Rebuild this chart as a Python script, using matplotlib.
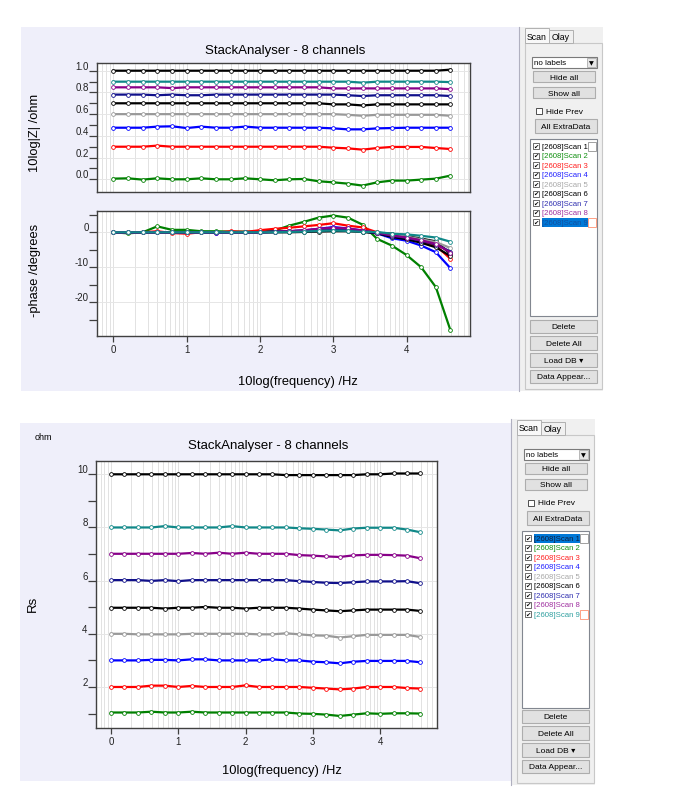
import numpy as np
import matplotlib
matplotlib.use('Agg')
import matplotlib.pyplot as plt
from matplotlib.patches import Rectangle

plt.rcParams['font.family'] = ['Liberation Sans', 'DejaVu Sans']

W, H = 700, 804

# x axis: 10log(frequency) of the 24 measured points
log_freq = [0.0, 0.2, 0.4, 0.6, 0.8, 1.0, 1.2, 1.4, 1.6, 1.8, 2.0, 2.2,
            2.4, 2.6, 2.8, 3.0, 3.2, 3.4, 3.6, 3.8, 4.0, 4.2, 4.4, 4.6]

scan_names = ['[2608]Scan 1', '[2608]Scan 2', '[2608]Scan 3', '[2608]Scan 4', '[2608]Scan 5',
              '[2608]Scan 6', '[2608]Scan 7', '[2608]Scan 8', '[2608]Scan 9']
line_colors = ['#000000', '#008000', '#ff0000', '#0000ff', '#999999',
               '#000000', '#10108a', '#880088', '#108888']
list_colors = ['#000000', '#109010', '#ff2020', '#2020ff', '#a8a8a8',
               '#000000', '#3030b0', '#a030a0', '#30a0a0']

# 10log|Z| /ohm
z_scan1 = [1.00, 1.00, 1.00, 1.00, 1.00, 1.00, 1.00, 1.00, 1.00, 1.00, 1.00, 1.00,
           1.00, 1.00, 1.00, 1.00, 1.00, 1.00, 1.00, 1.00, 1.00, 1.00, 1.00, 1.01]
z_scan2 = [0.006, 0.009, -0.003, 0.009, 0.0, 0.0, 0.009, 0.0, 0.0, 0.009, 0.0, -0.009,
           0.0, 0.003, -0.018, -0.028, -0.04, -0.058, -0.028, -0.012, -0.012, -0.003, 0.006, 0.034]
z_scan3 = [0.30, 0.30, 0.30, 0.31, 0.30, 0.30, 0.30, 0.30, 0.30, 0.30, 0.30, 0.30,
           0.30, 0.30, 0.30, 0.291, 0.285, 0.273, 0.288, 0.298, 0.298, 0.298, 0.288, 0.279]
z_scan4 = [0.475, 0.475, 0.475, 0.485, 0.488, 0.472, 0.485, 0.475, 0.475, 0.485, 0.475, 0.475,
           0.475, 0.475, 0.475, 0.469, 0.46, 0.46, 0.469, 0.472, 0.475, 0.475, 0.475, 0.475]
z_scan5 = [0.60, 0.60, 0.60, 0.60, 0.60, 0.60, 0.60, 0.60, 0.60, 0.60, 0.60, 0.60,
           0.60, 0.60, 0.60, 0.60, 0.594, 0.585, 0.594, 0.594, 0.594, 0.594, 0.594, 0.585]
z_scan6 = [0.70, 0.70, 0.70, 0.70, 0.70, 0.70, 0.70, 0.70, 0.70, 0.70, 0.70, 0.70,
           0.70, 0.70, 0.70, 0.69, 0.69, 0.68, 0.69, 0.69, 0.69, 0.69, 0.69, 0.69]
z_scan7 = [0.78, 0.78, 0.78, 0.774, 0.78, 0.774, 0.774, 0.78, 0.78, 0.78, 0.78, 0.78,
           0.78, 0.78, 0.78, 0.78, 0.774, 0.767, 0.774, 0.774, 0.774, 0.774, 0.774, 0.767]
z_scan8 = [0.847, 0.847, 0.847, 0.847, 0.84, 0.847, 0.847, 0.847, 0.847, 0.847, 0.847, 0.847,
           0.847, 0.847, 0.847, 0.837, 0.837, 0.837, 0.837, 0.837, 0.837, 0.837, 0.837, 0.83]
z_scan9 = [0.899, 0.899, 0.899, 0.899, 0.899, 0.899, 0.899, 0.899, 0.899, 0.899, 0.899, 0.899,
           0.899, 0.899, 0.899, 0.899, 0.899, 0.89, 0.899, 0.899, 0.899, 0.899, 0.899, 0.895]

# -phase /degrees
ph_scan1 = [0, 0, 0, 0, 0, 0, 0, 0, 0, 0, 0, 0,
            0, 0.1, 0.2, 0.3, 0.3, 0.1, -0.2, -0.4, -1.1, -1.8, -2.6, -6.2]
ph_scan2 = [0, -0.3, 0, 1.7, 0.7, 0.7, 0.3, 0.3, 0.2, 0.2, 0.2, 0.5,
            1.9, 3.0, 4.2, 4.8, 4.2, 2.2, -1.9, -3.8, -6.5, -10.0, -15.7, -28.1]
ph_scan3 = [0, 0, 0, 0.3, -0.2, -0.4, 0, -0.1, 0.3, 0.1, 0.6, 1.0,
            1.3, 1.7, 2.1, 2.6, 1.9, 1.4, 0, -0.8, -1.4, -2.6, -3.8, -7.6]
ph_scan4 = [0, 0, 0, 0, 0, 0, 0, -0.2, 0, 0, 0, 0.2,
            0.3, 0.5, 1.0, 1.5, 1.1, 0.5, -0.3, -1.7, -2.4, -3.8, -5.7, -10.3]
ph_scan5 = [0, 0, 0, 0, 0, 0, 0, 0, 0, 0, 0, 0.1,
            0.3, 0.5, 0.8, 1.0, 0.8, 0.4, -0.1, -0.8, -1.2, -2.0, -2.8, -4.5]
ph_scan6 = [0, 0, 0, 0, 0, 0, 0, 0, 0, 0, 0, 0.1,
            0.2, 0.4, 0.7, 0.9, 0.7, 0.2, -0.3, -1.3, -2.0, -3.0, -4.3, -6.8]
ph_scan7 = [0, 0, 0, 0, 0, 0, 0, 0, 0, 0, 0, 0.1,
            0.3, 0.5, 0.8, 1.0, 0.8, 0.3, -0.2, -1.0, -1.6, -2.4, -3.5, -5.5]
ph_scan8 = [0, 0, 0, 0, 0, 0, 0, 0, 0, 0, 0, 0.1,
            0.3, 0.6, 1.0, 1.3, 1.1, 0.5, -0.1, -0.9, -1.5, -2.3, -3.3, -5.8]
ph_scan9 = [0, 0, 0, 0, 0, 0, 0, 0, 0, 0, 0, 0,
            0.1, 0.2, 0.4, 0.5, 0.4, 0.1, 0.1, -0.4, -0.6, -1.0, -1.5, -2.7]

# Rs /ohm
rs_scan1 = [10.0, 10.0, 10.0, 10.0, 10.0, 10.0, 10.0, 10.0, 10.0, 10.0, 10.0, 10.0,
            10.0, 9.97, 9.97, 9.97, 9.97, 9.97, 9.97, 10.0, 10.0, 10.03, 10.03, 10.03]
rs_scan2 = [1.04, 1.04, 1.04, 1.07, 1.04, 1.04, 1.07, 1.04, 1.04, 1.04, 1.04, 1.04,
            1.04, 1.04, 1.0, 0.99, 0.96, 0.91, 0.96, 1.01, 0.99, 1.01, 1.01, 1.0]
rs_scan3 = [2.0, 2.0, 2.0, 2.05, 2.05, 2.0, 2.04, 2.0, 2.0, 2.0, 2.06, 2.0,
            2.0, 2.0, 2.0, 1.97, 1.94, 1.91, 1.94, 2.0, 2.0, 2.0, 1.96, 1.94]
rs_scan4 = [3.0, 3.0, 3.0, 3.02, 3.02, 3.0, 3.04, 3.04, 3.0, 3.0, 3.0, 3.0,
            3.04, 3.0, 3.0, 2.95, 2.93, 2.89, 2.95, 2.98, 2.98, 2.98, 2.98, 2.93]
rs_scan5 = [4.0, 4.0, 3.98, 3.98, 3.98, 3.98, 4.0, 4.0, 4.0, 4.0, 4.0, 3.98,
            3.98, 4.02, 3.98, 3.94, 3.93, 3.86, 3.91, 3.96, 3.96, 3.96, 3.96, 3.88]
rs_scan6 = [4.98, 4.98, 4.98, 4.98, 4.95, 4.98, 4.98, 5.01, 4.98, 4.98, 4.95, 4.98,
            4.98, 4.98, 4.95, 4.91, 4.88, 4.85, 4.88, 4.91, 4.91, 4.91, 4.91, 4.86]
rs_scan7 = [6.02, 6.02, 6.02, 5.99, 6.02, 5.98, 6.02, 6.02, 6.02, 6.02, 6.02, 6.02,
            6.02, 6.02, 5.98, 5.95, 5.92, 5.91, 5.94, 5.97, 5.97, 5.97, 5.98, 5.9]
rs_scan8 = [7.01, 7.01, 7.01, 7.01, 7.01, 7.01, 7.04, 7.01, 7.05, 7.01, 7.05, 7.01,
            7.01, 7.01, 6.96, 6.94, 6.91, 6.89, 6.95, 6.97, 6.97, 6.96, 6.94, 6.84]
rs_scan9 = [8.0, 8.0, 8.0, 8.0, 8.05, 8.0, 8.0, 8.0, 8.0, 8.05, 8.0, 8.0,
            8.0, 8.0, 7.97, 7.95, 7.92, 7.89, 7.96, 7.99, 7.99, 7.99, 7.92, 7.82]

z_data = [z_scan1, z_scan2, z_scan3, z_scan4, z_scan5, z_scan6, z_scan7, z_scan8, z_scan9]
ph_data = [ph_scan1, ph_scan2, ph_scan3, ph_scan4, ph_scan5, ph_scan6, ph_scan7, ph_scan8, ph_scan9]
rs_data = [rs_scan1, rs_scan2, rs_scan3, rs_scan4, rs_scan5, rs_scan6, rs_scan7, rs_scan8, rs_scan9]

fig = plt.figure(figsize=(W / 100, H / 100), dpi=100)
fig.patch.set_facecolor('white')

# background layer in pixel coordinates
bg = fig.add_axes([0, 0, 1, 1], zorder=0)
bg.set_xlim(0, W)
bg.set_ylim(H, 0)
bg.axis('off')

LAV = '#efeffa'
bg.add_patch(Rectangle((21, 28), 498, 364, fc=LAV, ec='none'))
bg.add_patch(Rectangle((20, 424), 492, 358, fc=LAV, ec='none'))


def px_axes(l, t, r, b):
    ax = fig.add_axes([l / W, 1 - b / H, (r - l) / W, (b - t) / H], zorder=2)
    ax.set_facecolor('white')
    for s in ax.spines.values():
        s.set_color('#404040')
        s.set_linewidth(1.0)
    return ax


def log_grid(ax, xmin, xmax):
    for n in range(-1, 5):
        for k in range(1, 10):
            v = n + np.log10(k)
            if xmin < v < xmax:
                ax.axvline(v, color='#e2e2e2', lw=0.7, zorder=0)


def style_ax(ax, xlim, ylim, major, minor, labels):
    ax.set_xlim(*xlim)
    ax.set_ylim(*ylim)
    log_grid(ax, *xlim)
    for v in major:
        ax.axhline(v, color='#e6e6e6', lw=0.7, zorder=0)
    ax.set_yticks(major, labels=labels)
    ax.set_yticks(minor, minor=True)
    ax.tick_params(axis='y', which='both', direction='out', length=6, width=0.9,
                   color='#404040', labelsize=7, labelcolor='#222222', pad=0)
    for t in ax.get_yticklabels():
        t.set_va('bottom')


def draw_lines(ax, data):
    for ys, c in zip(data, line_colors):
        ax.plot(log_freq, ys, color=c, lw=1.6, marker='o', ms=2.7, mfc='white',
                mec=c, mew=0.6, zorder=3)


# ---- top panel: |Z| and phase ----
ax_z = px_axes(97, 64, 470, 193)
style_ax(ax_z, (-0.222, 4.866), (-0.117, 1.071),
         [0.0, 0.2, 0.4, 0.6, 0.8, 1.0], [0.1, 0.3, 0.5, 0.7, 0.9],
         ['0.0', '0.2', '0.4', '0.6', '0.8', '1.0'])
ax_z.set_xticks([])
draw_lines(ax_z, z_data)

ax_p = px_axes(97, 212, 470, 337)
style_ax(ax_p, (-0.222, 4.866), (-29.7, 6.1),
         [0, -10, -20], [5, -5, -15, -25], ['0', '-10', '-20'])
ax_p.set_xticks([0, 1, 2, 3, 4], labels=['0', '1', '2', '3', '4'])
ax_p.tick_params(axis='x', direction='out', length=4, width=0.9, color='#404040',
                 labelsize=7, labelcolor='#222222', pad=2)
draw_lines(ax_p, ph_data)

bg.text(285, 51, 'StackAnalyser - 8 channels', ha='center', va='center', fontsize=9.5)
bg.text(35, 133, '10log|Z| /ohm', ha='center', va='center', rotation=90, fontsize=9.3)
bg.text(35, 270, '-phase /degrees', ha='center', va='center', rotation=90, fontsize=9.3)
bg.text(298, 382, '10log(frequency) /Hz', ha='center', va='center', fontsize=9.3)

# ---- bottom panel: Rs ----
ax_r = px_axes(96, 462, 437, 729)
style_ax(ax_r, (-0.223, 4.846), (0.457, 10.5),
         [2, 4, 6, 8, 10], [1, 3, 5, 7, 9], ['2', '4', '6', '8', '10'])
ax_r.set_xticks([0, 1, 2, 3, 4], labels=['0', '1', '2', '3', '4'])
ax_r.tick_params(axis='x', direction='out', length=4, width=0.9, color='#404040',
                 labelsize=7, labelcolor='#222222', pad=2)
draw_lines(ax_r, rs_data)

bg.text(268, 446, 'StackAnalyser - 8 channels', ha='center', va='center', fontsize=9.5)
bg.text(43, 438, 'ohm', ha='center', va='center', fontsize=6.5)
bg.text(33, 604, 'Rs', ha='center', va='center', rotation=90, fontsize=9.5)
bg.text(282, 771, '10log(frequency) /Hz', ha='center', va='center', fontsize=9.3)


# ---- side control panels ----
def button(x0, y0, x1, y1, label, fs=6):
    bg.add_patch(Rectangle((x0, y0), x1 - x0, y1 - y0, fc='#e1e1e1', ec='#adadad', lw=0.8))
    bg.text((x0 + x1) / 2, (y0 + y1) / 2 + 0.5, label, ha='center', va='center', fontsize=fs)


def side_panel(dx, dy, dy2, bottom, selected, boxed):
    bg.add_patch(Rectangle((519 + dx, 28 + dy), 84, bottom - 28 - dy, fc='#f0f0f0', ec='none'))
    bg.plot([519 + dx, 519 + dx], [28 + dy, bottom], color='#b0b0c0', lw=0.8)
    # tabs
    bg.add_patch(Rectangle((525 + dx, 44 + dy), 77, bottom - 46 - dy, fc='none', ec='#c8c8c8', lw=0.8))
    bg.add_patch(Rectangle((525 + dx, 29 + dy), 24, 15, fc='#f8f8f8', ec='#b0b0b0', lw=0.7))
    bg.add_patch(Rectangle((549 + dx, 31 + dy), 24, 13, fc='#f0f0f0', ec='#b0b0b0', lw=0.7))
    bg.text(537 + dx, 37 + dy, 'Scan', ha='center', va='center', fontsize=6.3)
    bg.text(561 + dx, 38 + dy, 'Olay', ha='center', va='center', fontsize=6.3)
    # drop down
    bg.add_patch(Rectangle((532 + dx, 58 + dy), 65, 11, fc='white', ec='#7a7a7a', lw=0.8))
    bg.text(534 + dx, 63.5 + dy, 'no labels', ha='left', va='center', fontsize=5.8)
    bg.add_patch(Rectangle((587 + dx, 59 + dy), 9, 9, fc='#e6e6e6', ec='#adadad', lw=0.6))
    bg.text(591.5 + dx, 63.5 + dy, '\u25BC', ha='center', va='center', fontsize=4.5,
            family='DejaVu Sans')
    button(533 + dx, 72 + dy, 595 + dx, 83 + dy, 'Hide all')
    button(533 + dx, 88 + dy, 595 + dx, 99 + dy, 'Show all')
    bg.add_patch(Rectangle((536 + dx, 109 + dy), 6, 6, fc='white', ec='#333333', lw=0.6))
    bg.text(546 + dx, 112 + dy, 'Hide Prev', ha='left', va='center', fontsize=6)
    button(535 + dx, 120 + dy, 597 + dx, 134 + dy, 'All ExtraData')
    # scan list
    bg.add_patch(Rectangle((530 + dx, 140 + dy), 67, 177, fc='white', ec='#828790', lw=0.8))
    for i, (name, c) in enumerate(zip(scan_names, list_colors)):
        yc = 147 + dy + 9.5 * i
        bg.add_patch(Rectangle((532.5 + dx, yc - 3), 6, 6, fc='white', ec='#333333', lw=0.5))
        bg.text(535.5 + dx, yc + 0.3, '\u2714', ha='center', va='center', fontsize=4.5,
                family='DejaVu Sans', color='black')
        tc = c
        if i == selected:
            bg.add_patch(Rectangle((542 + dx, yc - 4.5), 46, 9, fc='#0078d7', ec='none'))
            tc = '#1050a0' if i == 8 else '#102040'
        bg.text(542 + dx, yc + 0.3, name, ha='left', va='center', fontsize=5.6, color=tc)
        if i in boxed:
            ec = '#ff9070' if i == 8 else '#909090'
            bg.add_patch(Rectangle((588 + dx, yc - 4.5), 8, 9, fc='white', ec=ec, lw=0.6))
    button(530 + dx, 321 + dy2, 597 + dx, 334 + dy2, 'Delete')
    button(530 + dx, 337 + dy2, 597 + dx, 351 + dy2, 'Delete All')
    button(530 + dx, 354 + dy2, 597 + dx, 368 + dy2, 'Load DB \u25BE')
    button(530 + dx, 371 + dy2, 597 + dx, 384 + dy2, 'Data Appear...')


side_panel(0, 0, 0, 392, 8, [0, 8])
side_panel(-8, 392, 390, 786, 0, [0, 8])

fig.savefig('out.png', dpi=100)
